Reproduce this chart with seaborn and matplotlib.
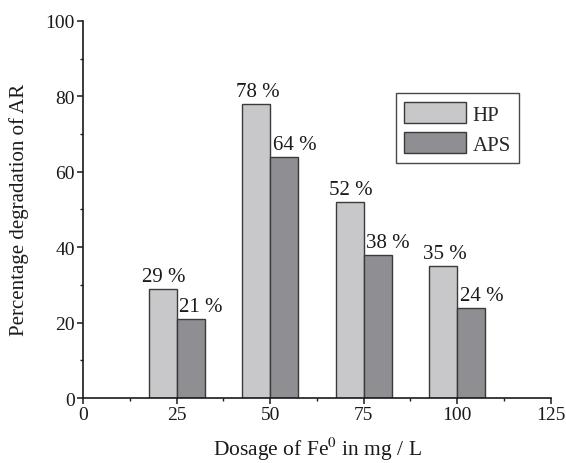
import numpy as np
import pandas as pd
import matplotlib
matplotlib.use('Agg')
import matplotlib.pyplot as plt
import seaborn as sns
from matplotlib.ticker import MultipleLocator
from matplotlib.patches import Patch

# data
dosage = [25, 50, 75, 100]
hp = [29, 78, 52, 35]
aps = [21, 64, 38, 24]
series = ['HP', 'APS']
colors = ['#c8c8ca', '#8f8f93']

df = pd.DataFrame({
    'dosage': dosage * 2,
    'value': hp + aps,
    'oxidant': ['HP'] * len(hp) + ['APS'] * len(aps),
})

sns.set_theme(style='ticks')
plt.rcParams['font.family'] = ['Liberation Serif', 'DejaVu Serif']
plt.rcParams['mathtext.fontset'] = 'stix'

fig = plt.figure(figsize=(5.66, 4.64), dpi=100)
ax = fig.add_axes([0.147, 0.140, 0.826, 0.813])

sns.barplot(data=df, x='dosage', y='value', hue='oxidant', hue_order=series,
            palette=colors, native_scale=True, width=0.6, dodge=True,
            edgecolor='#3a3a3a', linewidth=1.0, saturation=1, legend=False, ax=ax)

# value labels over the bars
offsets = {'HP': -4.5, 'APS': 2.0}
for name, cont in zip(series, ax.containers):
    for bar in cont:
        h = bar.get_height()
        ax.annotate(f'{h:.0f} %', (bar.get_x(), h), xytext=(offsets[name], 2),
                    textcoords='offset points', ha='left', va='bottom',
                    fontsize=15, color='#1a1a1a')

ax.set_xlim(0, 125)
ax.set_ylim(0, 100)
ax.xaxis.set_major_locator(MultipleLocator(25))
ax.xaxis.set_minor_locator(MultipleLocator(12.5))
ax.yaxis.set_major_locator(MultipleLocator(20))
ax.yaxis.set_minor_locator(MultipleLocator(10))
ax.tick_params(which='major', direction='out', length=4, width=1.1,
               labelsize=14, colors='#1a1a1a', pad=2)
ax.tick_params(which='minor', direction='out', length=2.5, width=1.0, colors='#1a1a1a')
for s in ['left', 'bottom']:
    ax.spines[s].set_linewidth(1.2)
    ax.spines[s].set_color('#1a1a1a')
sns.despine(ax=ax)

ax.set_xlabel('Dosage of Fe$^0$ in mg / L', fontsize=15.5, color='#1a1a1a', labelpad=8)
ax.set_ylabel('Percentage degradation of AR', fontsize=15, color='#1a1a1a', labelpad=12)

handles = [Patch(facecolor=c, edgecolor='#3a3a3a', linewidth=1.0) for c in colors]
leg = ax.legend(handles, series, loc='upper right', bbox_to_anchor=(0.955, 0.835),
                fontsize=15, frameon=True, fancybox=False, handlelength=3.0,
                handleheight=1.2, borderpad=0.4, labelspacing=0.35, handletextpad=0.3)
leg.get_frame().set_edgecolor('#1a1a1a')
leg.get_frame().set_linewidth(1.0)

fig.savefig('out.png', dpi=100)
